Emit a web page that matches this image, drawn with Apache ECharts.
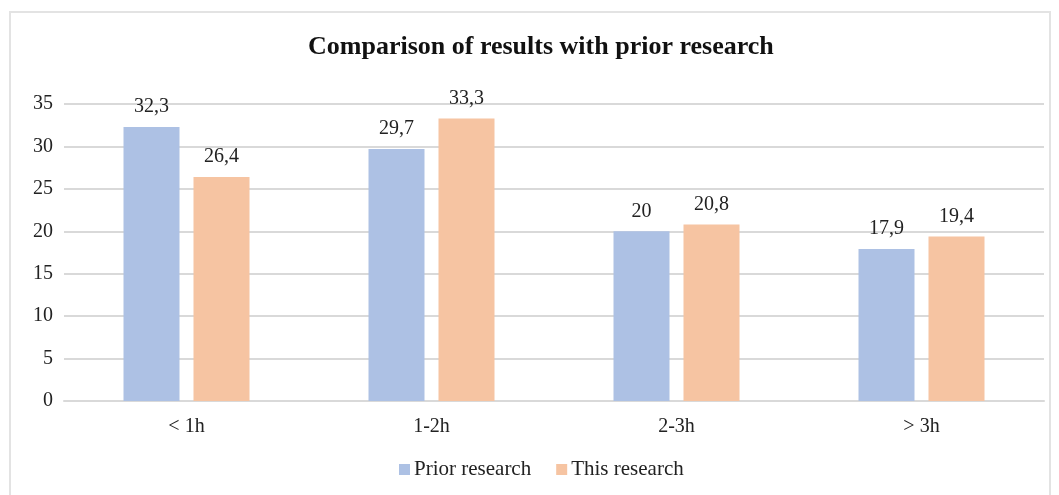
<!DOCTYPE html>
<html>
<head>
<meta charset="utf-8">
<style>
  html, body { margin: 0; padding: 0; background: #ffffff; }
  #chart { width: 1059px; height: 495px; }
</style>
<script src="https://cdn.jsdelivr.net/npm/echarts@6/dist/echarts.min.js"></script>
</head>
<body>
<div id="chart"></div>
<script>
// Share of respondents by daily duration, prior study vs. current study
const categories = ['< 1h', '1-2h', '2-3h', '> 3h'];
const priorResearch = [32.3, 29.7, 20, 17.9];
const thisResearch = [26.4, 33.3, 20.8, 19.4];
const yTicks = [0, 5, 10, 15, 20, 25, 30, 35];

const serif = '"Liberation Serif", "DejaVu Serif", serif';
const textColor = '#222222';
const gridColor = '#d9d9d9';

const fmt = v => String(v).replace('.', ',');

const chart = echarts.init(document.getElementById('chart'));

const labelStyle = {
  show: true,
  position: 'top',
  distance: 10,
  fontFamily: serif,
  fontSize: 20,
  color: textColor,
  formatter: p => fmt(p.value)
};

chart.setOption({
  animation: false,
  backgroundColor: '#ffffff',
  graphic: [{
    type: 'rect',
    shape: { x: 10, y: 12, width: 1040, height: 500 },
    style: { fill: 'none', stroke: '#e3e3e3', lineWidth: 2 },
    silent: true,
    z: -1
  }],
  title: {
    text: 'Comparison of results with prior research',
    left: 303,
    top: 29,
    textStyle: {
      fontFamily: serif,
      fontSize: 26,
      fontWeight: 'bold',
      color: '#111111'
    }
  },
  legend: {
    bottom: 10,
    left: 394,
    itemWidth: 11,
    itemHeight: 11,
    itemGap: 25,
    icon: 'rect',
    textStyle: { fontFamily: serif, fontSize: 21, color: textColor, padding: [0, 0, 0, -1] },
    data: ['Prior research', 'This research']
  },
  grid: { left: 64, right: 15, top: 104, bottom: 94 },
  xAxis: {
    type: 'category',
    data: categories,
    axisLine: { lineStyle: { color: gridColor, width: 2 } },
    axisTick: { show: false },
    axisLabel: { fontFamily: serif, fontSize: 20, color: textColor, margin: 16 }
  },
  yAxis: {
    type: 'value',
    min: yTicks[0],
    max: yTicks[yTicks.length - 1],
    interval: yTicks[1] - yTicks[0],
    axisLine: { show: false },
    axisTick: { show: false },
    splitLine: { lineStyle: { color: gridColor, width: 2 } },
    axisLabel: { fontFamily: serif, fontSize: 20, color: textColor, margin: 11 }
  },
  series: [
    {
      name: 'Prior research',
      type: 'bar',
      data: priorResearch,
      barWidth: 56,
      barGap: '25%',
      itemStyle: { color: '#adc1e4' },
      label: labelStyle
    },
    {
      name: 'This research',
      type: 'bar',
      data: thisResearch,
      barWidth: 56,
      itemStyle: { color: '#f6c4a2' },
      label: labelStyle
    }
  ]
});
</script>
</body>
</html>
